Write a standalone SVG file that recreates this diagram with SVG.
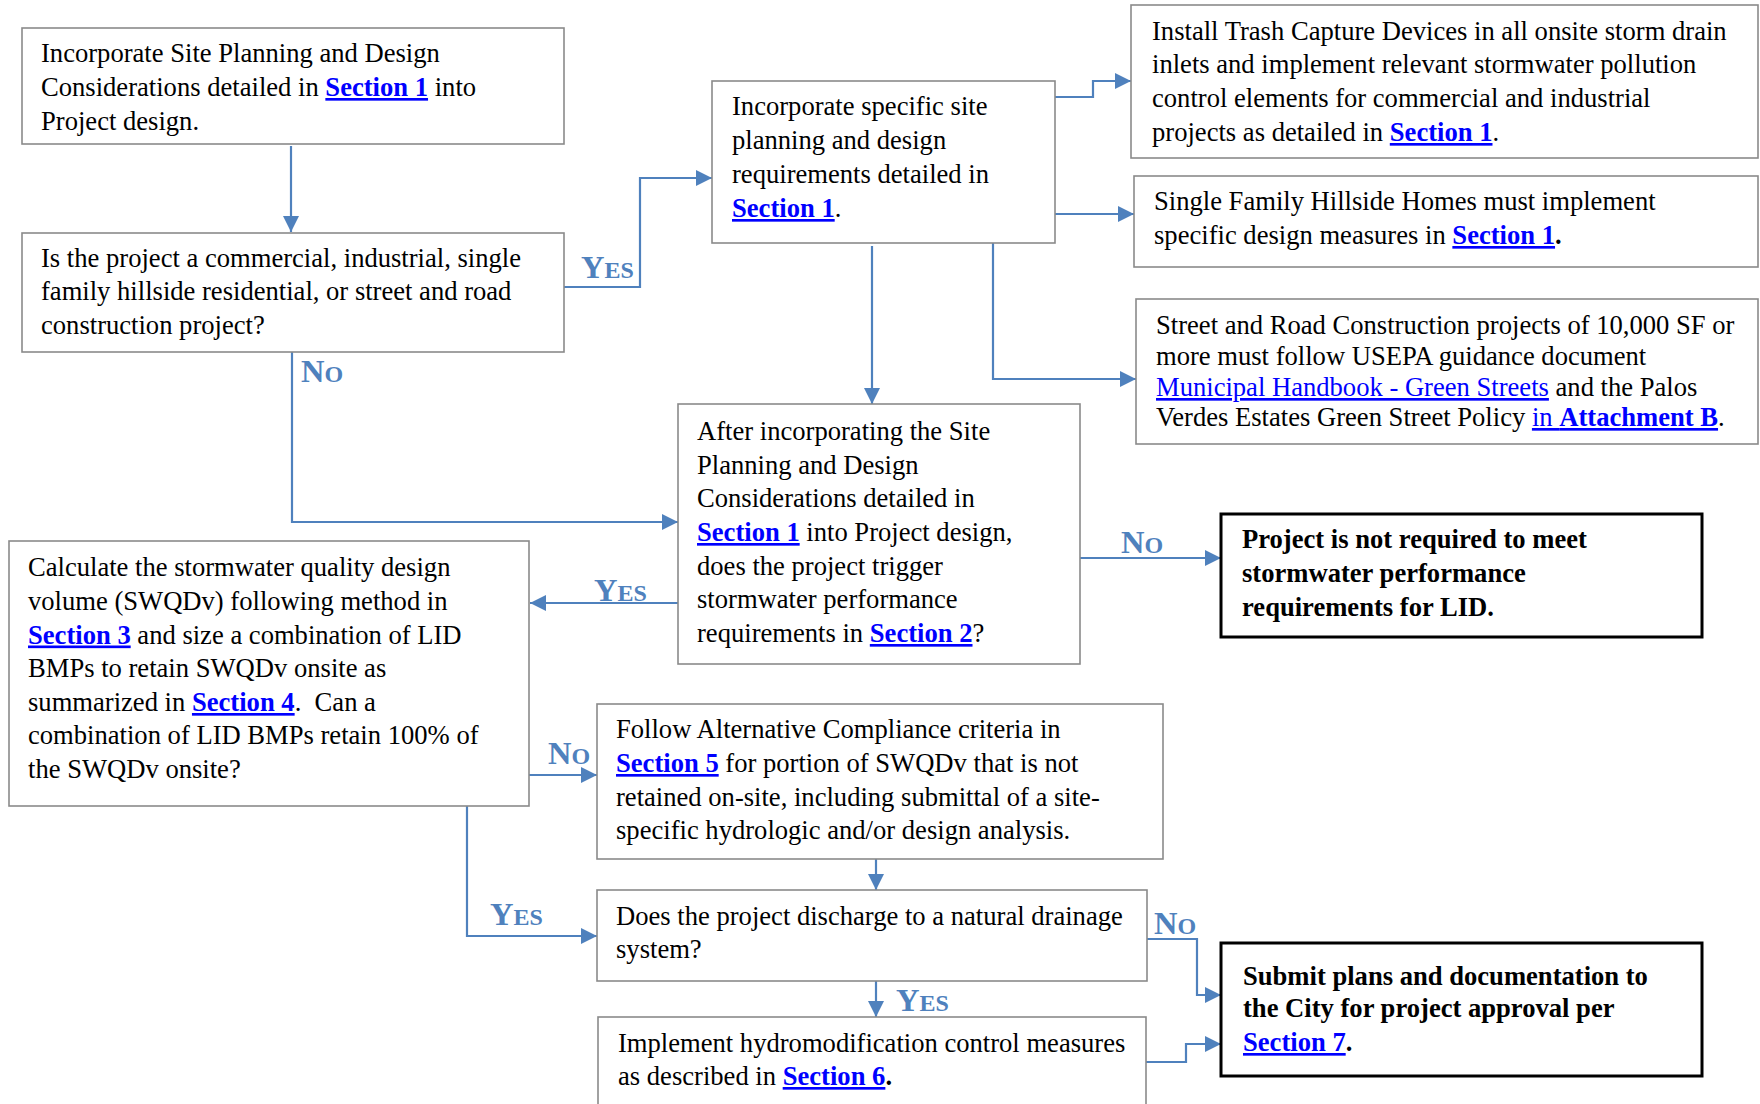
<svg xmlns="http://www.w3.org/2000/svg" width="1760" height="1104" viewBox="0 0 1760 1104">
<style>
.box{fill:#fff;stroke:#8a8a8a;stroke-width:1.6}
.bold{fill:#fff;stroke:#000;stroke-width:3}
text{font-family:"Liberation Serif","Times New Roman",serif;font-size:26.6px;fill:#000}
.b{font-weight:bold}
.lk{fill:#0000ff;text-decoration:underline}
.lb{fill:#0000ff;font-weight:bold;text-decoration:underline}
.lab{font-weight:bold;fill:#4f81bd;font-size:32.5px}
.sc{font-size:24px}
.con{fill:none;stroke:#4f81bd;stroke-width:2.2;marker-end:url(#ah)}
</style>
<defs>
<marker id="ah" markerUnits="userSpaceOnUse" markerWidth="16" markerHeight="16" refX="16" refY="8" orient="auto">
<path d="M0,0 L16,8 L0,16 z" fill="#4f81bd"/>
</marker>
</defs>
<rect width="1760" height="1104" fill="#fff"/>

<g id="connectors">
<path class="con" d="M291,146 L291,232"/>
<path class="con" d="M564,287 L640,287 L640,178 L712,178"/>
<path class="con" d="M1055,97 L1093,97 L1093,81 L1131,81"/>
<path class="con" d="M1055,214 L1134,214"/>
<path class="con" d="M993,243 L993,379 L1136,379"/>
<path class="con" d="M872,246 L872,404"/>
<path class="con" d="M292,352 L292,522 L678,522"/>
<path class="con" d="M1080,558 L1221,558"/>
<path class="con" d="M678,603 L530,603"/>
<path class="con" d="M529,775 L597,775"/>
<path class="con" d="M467,806 L467,936 L597,936"/>
<path class="con" d="M876,859 L876,890"/>
<path class="con" d="M876,981 L876,1017"/>
<path class="con" d="M1147,939 L1197,939 L1197,995 L1221,995"/>
<path class="con" d="M1146,1062 L1186,1062 L1186,1044 L1221,1044"/>
<text class="lab" x="581" y="278">Y<tspan class="sc">ES</tspan></text>
<text class="lab" x="301" y="382">N<tspan class="sc">O</tspan></text>
<text class="lab" x="1121" y="553">N<tspan class="sc">O</tspan></text>
<text class="lab" x="594" y="601">Y<tspan class="sc">ES</tspan></text>
<text class="lab" x="548" y="764">N<tspan class="sc">O</tspan></text>
<text class="lab" x="490" y="925">Y<tspan class="sc">ES</tspan></text>
<text class="lab" x="896" y="1011">Y<tspan class="sc">ES</tspan></text>
<text class="lab" x="1154" y="934">N<tspan class="sc">O</tspan></text>
</g>

<g id="n1">
<rect class="box" x="22" y="28" width="542" height="116"/>
<text x="41" y="62">Incorporate Site Planning and Design</text>
<text x="41" y="96">Considerations detailed in <tspan class="lb">Section 1</tspan> into</text>
<text x="41" y="130">Project design.</text>
</g>

<g id="n2">
<rect class="box" x="22" y="233" width="542" height="119"/>
<text x="41" y="267">Is the project a commercial, industrial, single</text>
<text x="41" y="300">family hillside residential, or street and road</text>
<text x="41" y="334">construction project?</text>
</g>

<g id="n3">
<rect class="box" x="712" y="81" width="343" height="162"/>
<text x="732" y="115">Incorporate specific site</text>
<text x="732" y="149">planning and design</text>
<text x="732" y="183">requirements detailed in</text>
<text x="732" y="217"><tspan class="lb">Section 1</tspan>.</text>
</g>

<g id="n4">
<rect class="box" x="1131" y="5" width="627" height="153"/>
<text x="1152" y="39.5">Install Trash Capture Devices in all onsite storm drain</text>
<text x="1152" y="73">inlets and implement relevant stormwater pollution</text>
<text x="1152" y="107">control elements for commercial and industrial</text>
<text x="1152" y="141">projects as detailed in <tspan class="lb">Section 1</tspan>.</text>
</g>

<g id="n5">
<rect class="box" x="1134" y="176" width="624" height="91"/>
<text x="1154" y="210">Single Family Hillside Homes must implement</text>
<text x="1154" y="244">specific design measures in <tspan class="lb">Section 1</tspan><tspan class="b">.</tspan></text>
</g>

<g id="n6">
<rect class="box" x="1136" y="299" width="622" height="145"/>
<text x="1156" y="334">Street and Road Construction projects of 10,000 SF or</text>
<text x="1156" y="365">more must follow USEPA guidance document</text>
<text x="1156" y="396"><tspan class="lk">Municipal Handbook - Green Streets</tspan> and the Palos</text>
<text x="1156" y="426">Verdes Estates Green Street Policy <tspan class="lk">in </tspan><tspan class="lb">Attachment B</tspan>.</text>
</g>

<g id="n7">
<rect class="box" x="678" y="404" width="402" height="260"/>
<text x="697" y="440">After incorporating the Site</text>
<text x="697" y="474">Planning and Design</text>
<text x="697" y="507">Considerations detailed in</text>
<text x="697" y="541"><tspan class="lb">Section 1</tspan> into Project design,</text>
<text x="697" y="575">does the project trigger</text>
<text x="697" y="608">stormwater performance</text>
<text x="697" y="642">requirements in <tspan class="lb">Section 2</tspan>?</text>
</g>

<g id="n8">
<rect class="bold" x="1221" y="514" width="481" height="123"/>
<text class="b" x="1242" y="548">Project is not required to meet</text>
<text class="b" x="1242" y="582">stormwater performance</text>
<text class="b" x="1242" y="616">requirements for LID.</text>
</g>

<g id="n9">
<rect class="box" x="9" y="541" width="520" height="265"/>
<text x="28" y="576">Calculate the stormwater quality design</text>
<text x="28" y="610">volume (SWQDv) following method in</text>
<text x="28" y="643.5"><tspan class="lb">Section 3</tspan> and size a combination of LID</text>
<text x="28" y="677">BMPs to retain SWQDv onsite as</text>
<text x="28" y="711" xml:space="preserve">summarized in <tspan class="lb">Section 4</tspan>.  Can a</text>
<text x="28" y="744">combination of LID BMPs retain 100% of</text>
<text x="28" y="777.5">the SWQDv onsite?</text>
</g>

<g id="n10">
<rect class="box" x="597" y="704" width="566" height="155"/>
<text x="616" y="738">Follow Alternative Compliance criteria in</text>
<text x="616" y="772"><tspan class="lb">Section 5</tspan> for portion of SWQDv that is not</text>
<text x="616" y="806">retained on-site, including submittal of a site-</text>
<text x="616" y="839">specific hydrologic and/or design analysis.</text>
</g>

<g id="n11">
<rect class="box" x="597" y="890" width="550" height="91"/>
<text x="616" y="925">Does the project discharge to a natural drainage</text>
<text x="616" y="958">system?</text>
</g>

<g id="n12">
<rect class="box" x="598" y="1017" width="548" height="110"/>
<text x="618" y="1052">Implement hydromodification control measures</text>
<text x="618" y="1085">as described in <tspan class="lb">Section 6</tspan><tspan class="b">.</tspan></text>
</g>

<g id="n13">
<rect class="bold" x="1221" y="943" width="481" height="133"/>
<text class="b" x="1243" y="985">Submit plans and documentation to</text>
<text class="b" x="1243" y="1017">the City for project approval per</text>
<text class="b" x="1243" y="1051"><tspan class="lb">Section 7</tspan>.</text>
</g>
</svg>
